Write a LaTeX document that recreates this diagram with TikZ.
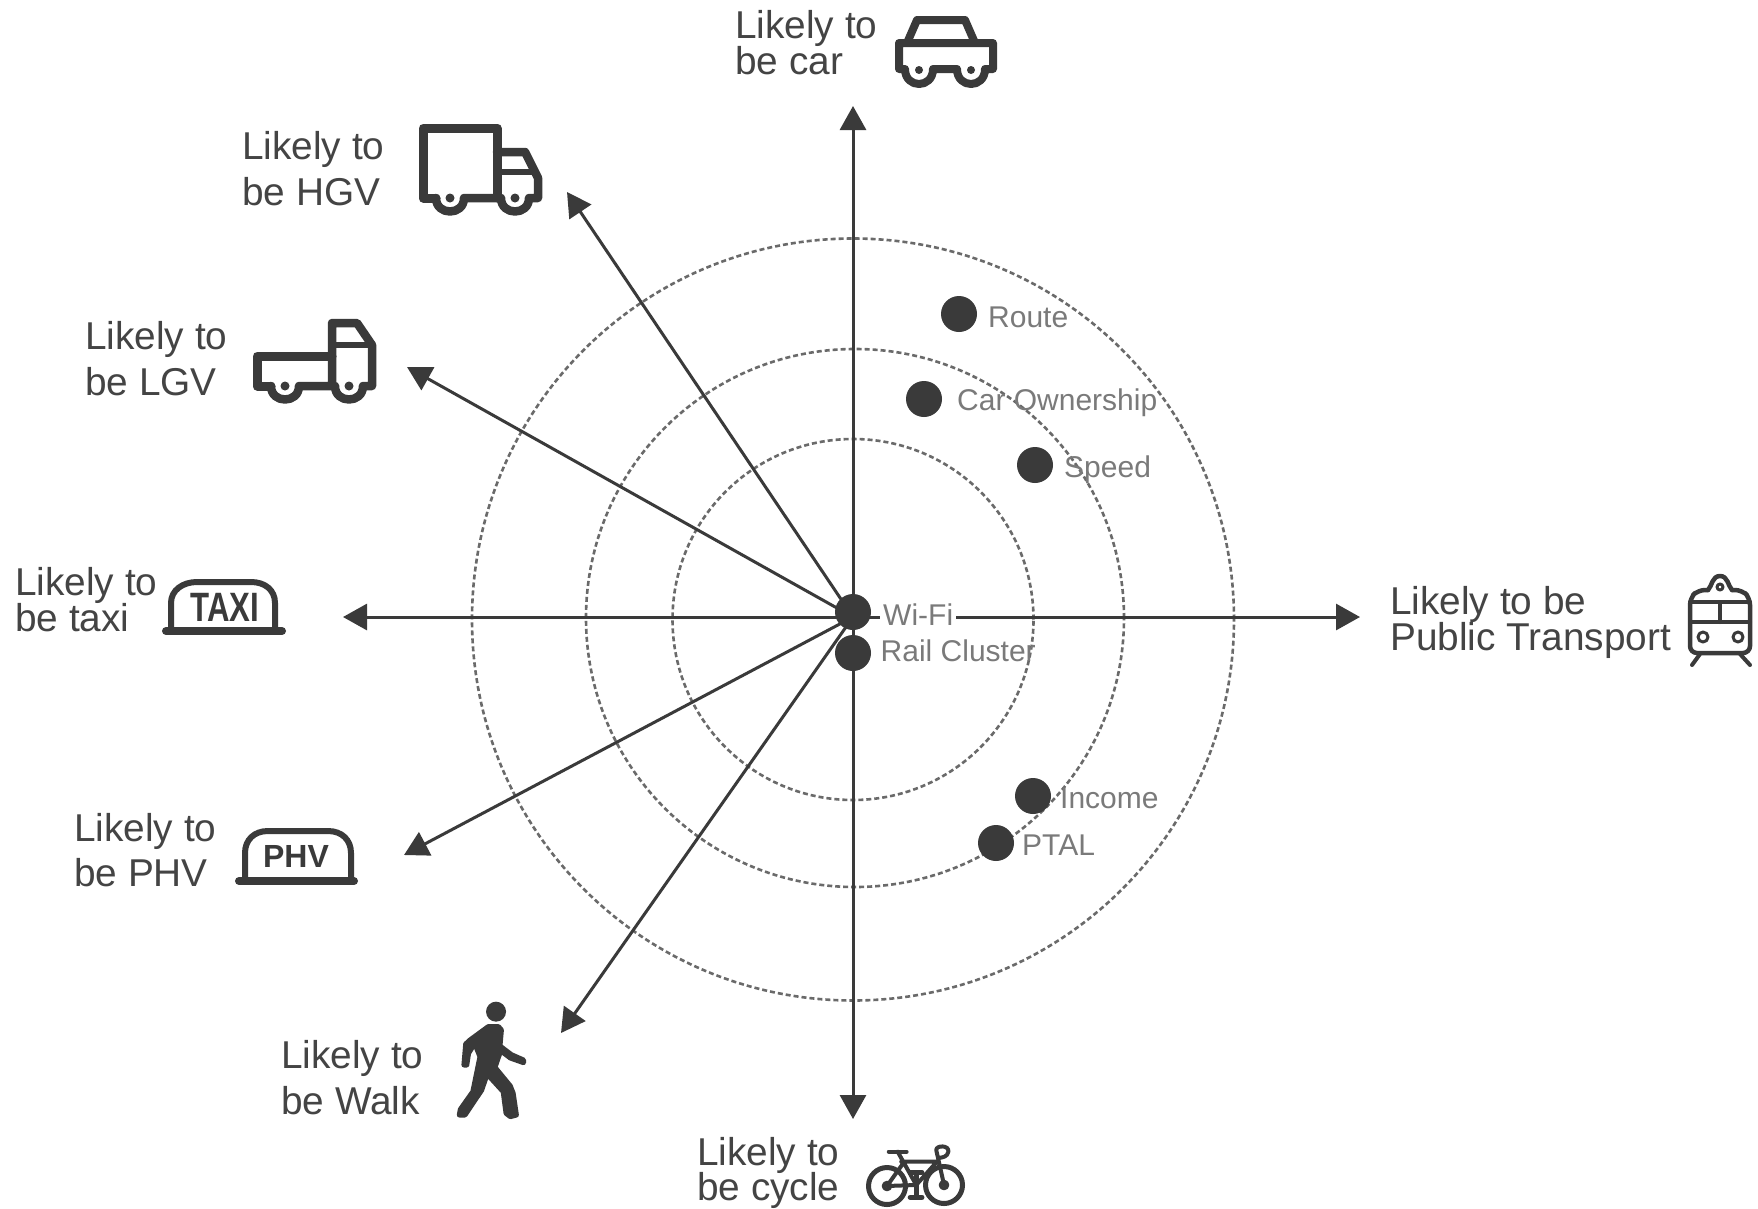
\documentclass[tikz,border=0pt]{standalone}
\usepackage{fontspec}
\setmainfont{Liberation Sans}
\usetikzlibrary{arrows.meta}
\definecolor{ink}{HTML}{3A3A3A}
\definecolor{txt}{HTML}{444444}
\definecolor{soft}{HTML}{7A7A7A}
\definecolor{ring}{HTML}{6A6A6A}
\lineskiplimit=-100pt\relax
\tikzset{
  ringline/.style={draw=ring,line width=2.6pt,dash pattern=on 5pt off 3pt},
  axis/.style={draw=ink,line width=3pt,-{Triangle[length=24pt,width=26pt]}},
  dot/.style={circle,fill=ink,inner sep=0pt,minimum size=36pt},
  likely/.style={anchor=base west,inner sep=0pt,align=left,text=txt,font=\fontsize{38.8pt}{#1pt}\selectfont},
  factor/.style={anchor=base west,inner sep=0pt,text=soft,font=\fontsize{30pt}{32pt}\selectfont},
  icon/.style={draw=ink,line width=#1pt,line join=round,line cap=round},
  hub/.style={fill=ink,draw=none},
  badge/.style={text=ink,inner sep=0pt,anchor=base}
}
\begin{document}
\lineskiplimit=-100pt\relax
\begin{tikzpicture}[x=1pt,y=-1pt]
\useasboundingbox (0,0) rectangle (1758,1208);
\fill[white] (0,0) rectangle (1758,1208);
% rings
\coordinate (c) at (853,619.5);
\coordinate (cm) at (855,618);
\draw[ringline] (c) circle[radius=381pt];
\draw[ringline] (cm) circle[radius=269pt];
\draw[ringline] (c) circle[radius=180.5pt];
% axes
\coordinate (o) at (853,617);
\coordinate (tcar) at (853,106);
\coordinate (tcycle) at (853,1119);
\coordinate (ttaxi) at (343,617);
\coordinate (tpt) at (1360,617);
\coordinate (thgv) at (567,192);
\coordinate (tlgv) at (407,367);
\coordinate (tphv) at (404,855);
\coordinate (twalk) at (561,1033);
\foreach \t in {tcar,tcycle,ttaxi,tpt,thgv,tlgv,tphv,twalk}{\draw[axis] (o) -- (\t);}
% dots
\node[dot] (wifi) at (853,612) {};
\node[dot] (rail) at (853,653) {};
\node[dot] (route) at (959,314) {};
\node[dot] (carown) at (924,399) {};
\node[dot] (speed) at (1035,465) {};
\node[dot] (income) at (1033,796) {};
\node[dot] (ptal) at (996,843) {};
% factor labels
\node[factor] (lroute) at (988,327) {Route};
\node[factor] (lcar) at (957,410) {Car Ownership};
\node[factor] (lspeed) at (1064,477) {Speed};
\node[factor,fill=white,inner xsep=3pt] (lwifi) at (880,625) {Wi-Fi};
\node[factor] (lrail) at (880.5,661) {Rail Cluster};
\node[factor] (lincome) at (1060,808) {Income};
\node[factor] (lptal) at (1022,855) {PTAL};
% likely labels
\node[likely=36] (ncar) at (735,74) {Likely to\\be car};
\node[likely=46] (nhgv) at (242,205) {Likely to\\be HGV};
\node[likely=46] (nlgv) at (85,395) {Likely to\\be LGV};
\node[likely=36] (ntaxi) at (15,631) {Likely to\\be taxi};
\node[likely=45] (nphv) at (74,886) {Likely to\\be PHV};
\node[likely=46] (nwalk) at (281,1114) {Likely to\\be Walk};
\node[likely=35] (ncycle) at (697,1200) {Likely to\\be cycle};
\node[likely=36] (npt) at (1390,650) {Likely to be\\Public Transport};
% car
\draw[icon=8] (907,43) -- (917,20) -- (965,20) -- (975,43);
\draw[icon=8] (905,69) -- (899,69) -- (899,43) -- (993,43) -- (993,69) -- (985,69)
  .. controls (985,89) and (957,89) .. (957,69) -- (933,69)
  .. controls (933,89) and (905,89) .. (905,69);
\fill[hub] (919,70) circle[radius=4pt] (971,70) circle[radius=4pt];
% HGV
\draw[icon=9] (436,198) -- (423,198) -- (423,128) -- (497,128) -- (497,198);
\draw[icon=8.5] (436,198) .. controls (436,216) and (464,216) .. (464,198) -- (501,198)
  .. controls (501,216) and (529,216) .. (529,198) -- (538,198) -- (538,178) -- (525,152) -- (497,152);
\draw[icon=6] (497,172) -- (532,172);
\fill[hub] (450,198) circle[radius=4.5pt] (515,198) circle[radius=4.5pt];
% LGV
\draw[icon=9] (271,386) -- (257,386) -- (257,356) -- (332,356);
\draw[icon=8.5] (332,386) -- (332,323) -- (357,323) -- (372,345) -- (372,386) -- (363,386)
  .. controls (363,404) and (335,404) .. (335,386) -- (299,386)
  .. controls (299,404) and (271,404) .. (271,386);
\draw[icon=6] (332,345) -- (370,345);
\fill[hub] (285,386) circle[radius=4.5pt] (349,386) circle[radius=4.5pt];
% taxi
\draw[icon=8] (166,631) -- (282,631);
\draw[icon=6] (171,631) -- (171,603) .. controls (171,590) and (183,582) .. (197,582) -- (251,582)
  .. controls (265,582) and (275,590) .. (275,603) -- (275,631);
\node[badge,font=\fontsize{41pt}{41pt}\selectfont\bfseries] (taxibadge) at (225,621) {\scalebox{0.76}[1]{TAXI}};
% PHV
\draw[icon=8] (239,881) -- (354,881);
\draw[icon=6] (245,881) -- (245,853) .. controls (245,840) and (254,831) .. (268,831) -- (328,831)
  .. controls (342,831) and (351,840) .. (351,853) -- (351,881);
\node[badge,font=\fontsize{32pt}{32pt}\selectfont\bfseries] (phvbadge) at (296,867) {PHV};
% train
\draw[icon=4.5,rounded corners=7pt] (1708,590) -- (1698,590) -- (1690,598) -- (1690,653) -- (1750,653) -- (1750,598) -- (1742,590) -- (1732,590);
\draw[icon=4.5] (1708,590) .. controls (1712,586) and (1712,576) .. (1720,576) .. controls (1728,576) and (1728,586) .. (1732,590);
\draw[icon=3] (1720,587) circle[radius=3pt];
\draw[icon=4] (1690,602) -- (1750,602) (1690,622) -- (1750,622) (1720,602) -- (1720,622);
\draw[icon=3] (1703,637) circle[radius=5pt] (1738,637) circle[radius=5pt];
\draw[icon=4] (1700,654) -- (1692,665) (1740,654) -- (1750,665);
% walker
\begin{scope}[shift={(430,980)},x=0.357pt,y=-0.3333pt]
\fill[hub] (185,95) ellipse[x radius=10pt,y radius=10pt];
\draw[icon=5,fill=ink] (163,140) -- (192,140) -- (200,150) -- (196,198) -- (228,224) -- (262,240) -- (262,248) -- (225,234) -- (198,212) -- (182,262) -- (225,318) -- (233,340) -- (242,405) -- (225,410) -- (213,400) -- (205,335) -- (160,282) -- (145,330) -- (98,405) -- (82,405) -- (85,388) -- (120,335) -- (140,230) -- (125,190) -- (108,220) -- (103,255) -- (95,255) -- (100,192) -- (112,180) -- cycle;
\end{scope}
% bicycle
\begin{scope}[shift={(430,980)},x=0.357pt,y=-0.3333pt]
\draw[icon=4] (1285,515) -- (1335,515);
\draw[icon=4] (1310,515) -- (1362,615) (1320,545) -- (1420,545) -- (1362,615)
  (1280,618) -- (1322,555) (1280,618) -- (1362,615)
  (1440,615) -- (1418,510) .. controls (1418,495) and (1455,495) .. (1452,515) .. controls (1450,530) and (1435,533) .. (1428,533);
\draw[icon=5] (1345,578) -- (1378,578) (1345,652) -- (1378,652) (1362,578) -- (1362,652);
\end{scope}
\draw[icon=5] (887,1186) circle[radius=18.5pt] (944,1185) circle[radius=18.5pt];
\draw[icon=3.5] (887,1186) circle[radius=3.5pt] (944,1185) circle[radius=3.5pt];
\end{tikzpicture}
\end{document}
